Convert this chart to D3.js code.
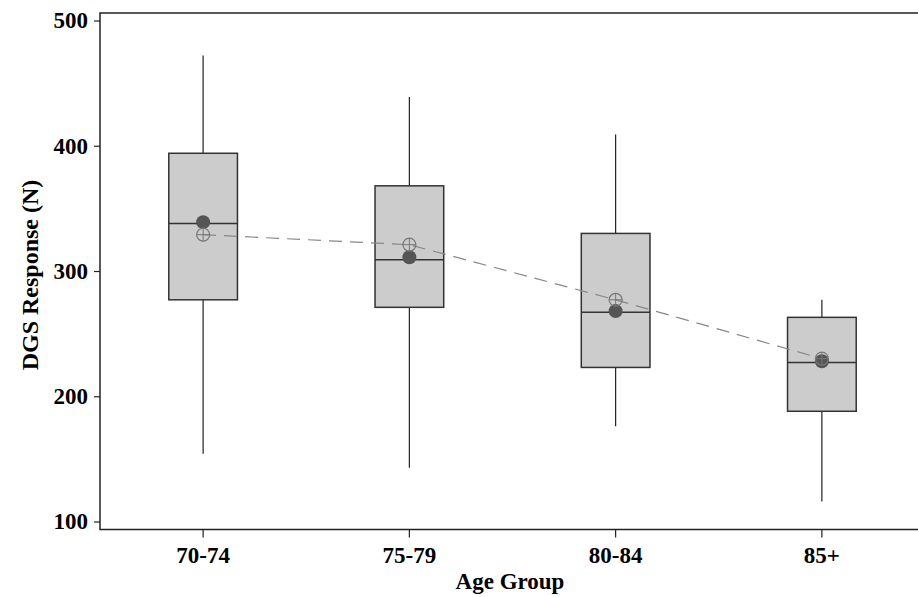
<!DOCTYPE html>
<html>
<head>
<meta charset="utf-8">
<script src="https://cdn.jsdelivr.net/npm/d3@7"></script>
<style>
  body { margin: 0; background: #fff; }
  svg { display: block; }
  text { font-family: "Liberation Serif", "Times New Roman", serif; font-weight: bold; }
</style>
</head>
<body>
<svg width="918" height="597"></svg>
<script>
// values (N)
var groups = ["70-74", "75-79", "80-84", "85+"];
var whiskerLow = [154, 143, 176, 116];
var q1 = [277, 271, 223, 188];
var median = [338, 309, 267, 227];
var q3 = [394, 368, 330, 263];
var whiskerHigh = [472, 439, 409, 277];
var dotValues = [339, 311, 268, 228];
var meanValues = [329, 321, 277, 230];
var yTicks = [100, 200, 300, 400, 500];

var svg = d3.select("svg"), width = +svg.attr("width"), height = +svg.attr("height");
var plotLeft = 100, plotRight = 925, plotTop = 13, plotBottom = 529.5;

var x = d3.scaleBand().domain(groups).range([plotLeft, plotRight]).paddingInner(0.667).paddingOuter(0.3335);
var y = d3.scaleLinear().domain([100, 500]).range([521.5, 20.5]);

var boxes = groups.map(function(g, i) {
  return {g: g, lo: whiskerLow[i], q1: q1[i], med: median[i], q3: q3[i], hi: whiskerHigh[i], dot: dotValues[i], mean: meanValues[i]};
});

// frame
svg.append("rect")
  .attr("x", plotLeft).attr("y", plotTop)
  .attr("width", plotRight - plotLeft).attr("height", plotBottom - plotTop)
  .attr("fill", "none").attr("stroke", "#222").attr("stroke-width", 1.5);

var g = svg.append("g");
var cx = function(d) { return x(d.g) + x.bandwidth() / 2; };

// whiskers
g.selectAll("line.whisker")
  .data(boxes)
  .enter().append("line")
  .attr("class", "whisker")
  .attr("x1", cx).attr("x2", cx)
  .attr("y1", function(d) { return y(d.lo); })
  .attr("y2", function(d) { return y(d.hi); })
  .attr("stroke", "#222").attr("stroke-width", 1.2);

// boxes
g.selectAll("rect.box")
  .data(boxes)
  .enter().append("rect")
  .attr("class", "box")
  .attr("x", function(d) { return x(d.g); })
  .attr("width", x.bandwidth())
  .attr("y", function(d) { return y(d.q3); })
  .attr("height", function(d) { return y(d.q1) - y(d.q3); })
  .attr("fill", "#cccccc").attr("stroke", "#333").attr("stroke-width", 1.5);

g.selectAll("line.median")
  .data(boxes)
  .enter().append("line")
  .attr("class", "median")
  .attr("x1", function(d) { return x(d.g); })
  .attr("x2", function(d) { return x(d.g) + x.bandwidth(); })
  .attr("y1", function(d) { return y(d.med); })
  .attr("y2", function(d) { return y(d.med); })
  .attr("stroke", "#333").attr("stroke-width", 1.5);

// dashed line through the means
var line = d3.line().x(cx).y(function(d) { return y(d.mean); });
g.append("path")
  .datum(boxes)
  .attr("d", line)
  .attr("fill", "none")
  .attr("stroke", "#888").attr("stroke-width", 1.2)
  .attr("stroke-dasharray", "13,8");

g.selectAll("circle.dot")
  .data(boxes)
  .enter().append("circle")
  .attr("class", "dot")
  .attr("cx", cx)
  .attr("cy", function(d) { return y(d.dot); })
  .attr("r", 7)
  .attr("fill", "#555");

var means = g.selectAll("g.mean")
  .data(boxes)
  .enter().append("g")
  .attr("class", "mean")
  .attr("transform", function(d) { return "translate(" + cx(d) + "," + y(d.mean) + ")"; });
means.append("circle").attr("r", 6.5).attr("fill", "none").attr("stroke", "#777").attr("stroke-width", 1.2);
means.append("line").attr("x1", -6.5).attr("x2", 6.5).attr("stroke", "#777").attr("stroke-width", 1);
means.append("line").attr("y1", -6.5).attr("y2", 6.5).attr("stroke", "#777").attr("stroke-width", 1);

// axes
var yAxis = svg.append("g")
  .attr("transform", "translate(" + plotLeft + ",0)")
  .call(d3.axisLeft(y).tickValues(yTicks).tickSize(6).tickPadding(6));
var xAxis = svg.append("g")
  .attr("transform", "translate(0," + plotBottom + ")")
  .call(d3.axisBottom(x).tickSize(8).tickPadding(9));
[yAxis, xAxis].forEach(function(a) {
  a.select(".domain").remove();
  a.selectAll("line").attr("stroke", "#222").attr("stroke-width", 1.2);
  a.selectAll("text").attr("fill", "#000").style("font-size", "23px").style("font-family", "'Liberation Serif', serif").style("font-weight", "bold");
});

svg.append("text")
  .attr("transform", "translate(38,275) rotate(-90)")
  .attr("text-anchor", "middle")
  .style("font-size", "24px")
  .text("DGS Response (N)");

svg.append("text")
  .attr("x", 510).attr("y", 589)
  .attr("text-anchor", "middle")
  .style("font-size", "23px")
  .text("Age Group");
</script>
</body>
</html>
